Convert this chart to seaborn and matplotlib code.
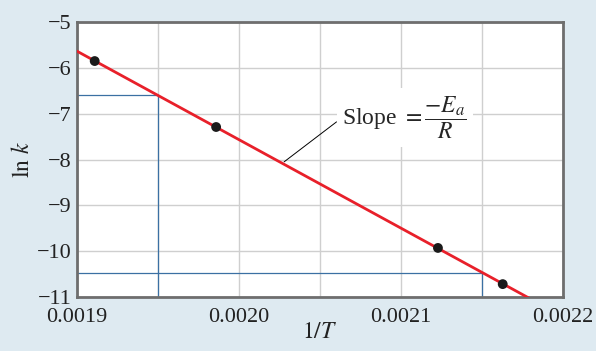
import numpy as np
import pandas as pd
import matplotlib
matplotlib.use("Agg")
import matplotlib.pyplot as plt
import seaborn as sns
from matplotlib.ticker import MultipleLocator, FormatStrFormatter

# data
inv_T = [0.001911, 0.001986, 0.002123, 0.002163]
ln_k = [-5.85, -7.29, -9.93, -10.72]

# construction lines (read-off points on the fit line)
guide_x = [0.00195, 0.00215]
guide_y = [-6.59, -10.48]

df = pd.DataFrame({"1/T": inv_T, "ln k": ln_k})

sns.set_theme(style="whitegrid")
plt.rcParams["font.family"] = ["Liberation Serif", "DejaVu Serif"]
plt.rcParams["mathtext.fontset"] = "stix"

bg = "#deeaf1"
fig, ax = plt.subplots(figsize=(5.96, 3.51), dpi=100)
fig.patch.set_facecolor(bg)
ax.set_facecolor("white")

xmin, xmax = 0.0019, 0.0022
ymin, ymax = -11, -5

# least-squares line through the points
slope, icpt = np.polyfit(inv_T, ln_k, 1)
xs = np.array([xmin, xmax])
sns.lineplot(x=xs, y=slope * xs + icpt, color="#e8202a", lw=2, ax=ax, zorder=3)

# guide lines
for gx, gy in zip(guide_x, guide_y):
    ax.plot([xmin, gx], [gy, gy], color="#3b70a3", lw=0.9, zorder=2)
    ax.plot([gx, gx], [ymin, gy], color="#3b70a3", lw=0.9, zorder=2)

sns.scatterplot(data=df, x="1/T", y="ln k", color="#1a1a1a", s=50,
                edgecolor="none", ax=ax, zorder=4)

ax.annotate(r"Slope $=\dfrac{-E_a}{R}$", xy=(0.002028, -8.05),
            xytext=(0.002064, -7.08), fontsize=17, va="center", ha="left",
            arrowprops=dict(arrowstyle="-", color="black", lw=0.7,
                            shrinkA=0, shrinkB=0, relpos=(0, 0.5)),
            bbox=dict(boxstyle="square,pad=0.25", fc="white", ec="none"))

ax.set_xlim(xmin, xmax)
ax.set_ylim(ymin, ymax)
ax.xaxis.set_major_locator(MultipleLocator(0.0001))
ax.xaxis.set_minor_locator(MultipleLocator(0.00005))
ax.xaxis.set_major_formatter(FormatStrFormatter("%.4f"))
ax.yaxis.set_major_locator(MultipleLocator(1))
ax.grid(which="both", color="#cfcfcf", lw=1)
ax.tick_params(which="both", length=0, labelsize=16, colors="#222222")
ax.tick_params(axis="x", pad=8)
ax.tick_params(axis="y", pad=4)
for s in ax.spines.values():
    s.set_color("#6e6e6e")
    s.set_linewidth(2)

ax.set_xlabel(r"$1/T$", fontsize=17, labelpad=-4, color="#222222")
ax.set_ylabel(r"$\mathrm{ln}\ k$", fontsize=17, labelpad=2, color="#222222")

fig.subplots_adjust(left=0.129, right=0.944, top=0.937, bottom=0.154)
fig.savefig("out.png", dpi=100, facecolor=bg)
